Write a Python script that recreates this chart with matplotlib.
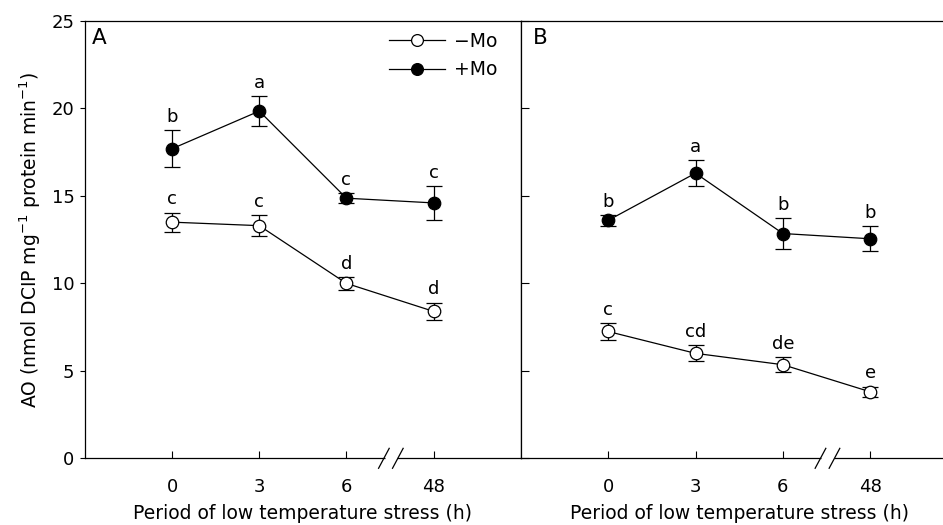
import matplotlib
matplotlib.use("Agg")
import matplotlib.pyplot as plt
from matplotlib.lines import Line2D

plt.rcParams['font.family'] = ['DejaVu Sans']

# tiempos de estrés (eje x con corte entre 6 y 48 h)
hours = ["0", "3", "6", "48"]

# panel A
a_minus = [13.5, 13.3, 10.0, 8.4]
a_minus_err = [0.55, 0.6, 0.38, 0.5]
a_minus_letters = ["c", "c", "d", "d"]
a_plus = [17.7, 19.85, 14.87, 14.6]
a_plus_err = [1.05, 0.85, 0.3, 0.95]
a_plus_letters = ["b", "a", "c", "c"]

# panel B
b_minus = [7.25, 6.0, 5.35, 3.8]
b_minus_err = [0.5, 0.45, 0.42, 0.3]
b_minus_letters = ["c", "cd", "de", "e"]
b_plus = [13.6, 16.3, 12.85, 12.55]
b_plus_err = [0.3, 0.75, 0.9, 0.72]
b_plus_letters = ["b", "a", "b", "b"]

W, H = 943, 525
fig = plt.figure(figsize=(W / 100, H / 100), dpi=100)
axA = fig.add_axes([85 / W, 66.7 / H, 435.7 / W, 437.3 / H])
axB = fig.add_axes([520.7 / W, 66.7 / H, 437 / W, 437.3 / H])

xpos = list(range(len(hours)))
fs = 13.5
ms = 9


def draw_series(ax, y, err, letters, filled):
    ax.errorbar(xpos, y, yerr=err, fmt='-o', color='black', lw=0.9,
                elinewidth=0.9, capsize=6, capthick=0.9, ms=ms,
                mfc='black' if filled else 'white', mec='black', mew=0.9,
                zorder=3)
    for x, v, e, t in zip(xpos, y, err, letters):
        ax.annotate(t, (x, v + e), xytext=(0, 3), textcoords='offset points',
                    ha='center', va='bottom', fontsize=13)


for ax in (axA, axB):
    ax.set_xlim(-1, 4)
    ax.set_ylim(0, 25)
    ax.set_xticks(xpos)
    ax.set_xticklabels(hours)
    ax.set_yticks([0, 5, 10, 15, 20, 25])
    ax.tick_params(axis='x', direction='in', length=5, width=0.8,
                   labelsize=13, pad=14)
    for s in ax.spines.values():
        s.set_linewidth(0.9)
    ax.set_xlabel("Period of low temperature stress (h)", fontsize=fs,
                  labelpad=6)
    # marcas de corte //
    for xb in (2.43, 2.59):
        ax.plot([xb - 0.061, xb + 0.061], [-0.57, 0.57], color='black',
                lw=0.9, clip_on=False, zorder=5)
    ax.plot([2.44, 2.58], [0, 0], color='white', lw=2.5, clip_on=False,
            zorder=4, solid_capstyle='butt')

axA.tick_params(axis='y', direction='out', length=3.6, width=0.8,
                labelsize=13, pad=4)
axB.tick_params(axis='y', direction='in', length=5.5, width=0.8,
                labelleft=False)
axB.spines['right'].set_visible(False)

draw_series(axA, a_minus, a_minus_err, a_minus_letters, False)
draw_series(axA, a_plus, a_plus_err, a_plus_letters, True)
draw_series(axB, b_minus, b_minus_err, b_minus_letters, False)
draw_series(axB, b_plus, b_plus_err, b_plus_letters, True)

axA.set_ylabel(r"AO (nmol DCIP mg$^{-1}$ protein min$^{-1}$)", fontsize=fs,
               labelpad=6)

handles = [Line2D([], [], color='black', lw=0.9, marker='o', ms=ms - 0.5,
                  mfc='white', mec='black', mew=0.9),
           Line2D([], [], color='black', lw=0.9, marker='o', ms=ms - 0.5,
                  mfc='black', mec='black', mew=0.9)]
axA.legend(handles, ["\u2212Mo", "+Mo"], loc='upper left',
           bbox_to_anchor=(0.697, 0.975), frameon=False, fontsize=fs,
           handlelength=3.0, handletextpad=0.5, borderpad=0,
           borderaxespad=0, labelspacing=0.5)

axA.text(0.016, 0.985, "A", transform=axA.transAxes, fontsize=15.5,
         ha='left', va='top')
axB.text(0.029, 0.985, "B", transform=axB.transAxes, fontsize=15.5,
         ha='left', va='top')

fig.savefig("out.png", dpi=100)
